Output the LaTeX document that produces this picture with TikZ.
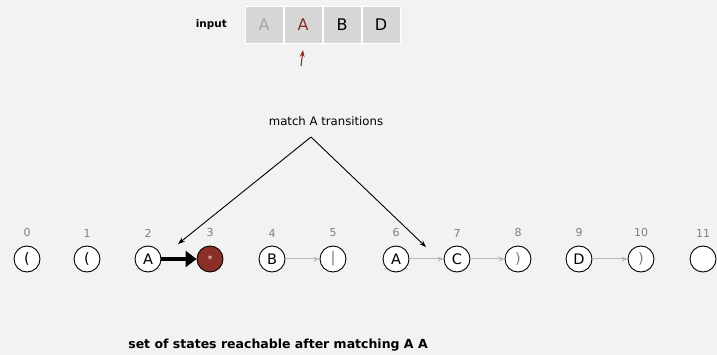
\documentclass[tikz,border=0pt]{standalone}
\usepackage{fontspec}
\setmainfont{DejaVu Sans}
\usetikzlibrary{arrows.meta,positioning}
\definecolor{bggray}{HTML}{F2F2F2}
\definecolor{cellgray}{HTML}{D6D6D6}
\definecolor{matchred}{HTML}{8B3026}
\definecolor{idxgray}{HTML}{7F7F7F}
\definecolor{epsgray}{HTML}{B8B8B8}
\tikzset{
  >=stealth,
  line cap=round,
  line join=round,
  state/.style={draw, circle, fill=white, line width=0.9pt, minimum size=26pt, inner sep=0pt, font=\fontsize{14.5}{14.5}\selectfont},
  cell/.style={draw=white, line width=1pt, fill=cellgray, minimum width=38pt, minimum height=37pt, font=\fontsize{16}{16}\selectfont},
  idx/.style={text=idxgray, font=\fontsize{11}{11}\selectfont, label distance=5pt},
  epsarrow/.style={-{Stealth[length=6pt,width=5pt]}, draw=epsgray, line width=1pt},
  matcharrow/.style={-{Stealth[length=7pt,width=5pt]}, line width=0.9pt},
  bigarrow/.style={-{Triangle[length=11pt,width=16pt]}, line width=4.5pt, line cap=butt}
}

\begin{document}
\begin{tikzpicture}[x=1pt, y=-1pt]
  \fill[bggray] (0,0) rectangle (717,355);
  \useasboundingbox (0,0) rectangle (717,355);

  % input text
  \node[cell, text=black!35] (c1) at (264,25) {A};
  \node[cell, text=matchred, right=0pt of c1] (c2) {A};
  \node[cell, right=0pt of c2] (c3) {B};
  \node[cell, right=0pt of c3] (c4) {D};
  \node[font=\fontsize{10.5}{12}\selectfont\bfseries, left=14pt of c1] (inlabel) {input};
  \coordinate (ptr) at (301,66);
  \draw[matcharrow, draw=matchred, fill=matchred, line width=1.1pt] (ptr) -- ([yshift=-6pt]c2.south);

  % NFA states
  \node[state, label={[idx]above:0}] (s0) at (27,259) {(};
  \node[state, label={[idx]above:1}] (s1) at (87,259) {(};
  \node[state, label={[idx]above:2}] (s2) at (148,259) {A};
  \node[state, fill=matchred, text=white, label={[idx]above:3}] (s3) at (210,259) {\fontsize{9}{9}\selectfont *};
  \node[state, label={[idx]above:4}] (s4) at (272,259) {B};
  \node[state, text=idxgray, label={[idx]above:5}] (s5) at (333,259) {|};
  \node[state, label={[idx]above:6}] (s6) at (396,259) {A};
  \node[state, label={[idx]above:7}] (s7) at (457,259) {C};
  \node[state, text=idxgray, label={[idx]above:8}] (s8) at (518,259) {)};
  \node[state, label={[idx]above:9}] (s9) at (579,259) {D};
  \node[state, text=idxgray, label={[idx]above:10}] (s10) at (641,259) {)};
  \node[state, label={[idx]above:11}] (s11) at (703,259) {};

  \draw[bigarrow] (s2) -- (s3);
  \draw[epsarrow] (s4) -- (s5);
  \draw[epsarrow] (s6) -- (s7);
  \draw[epsarrow] (s7) -- (s8);
  \draw[epsarrow] (s9) -- (s10);

  % match transitions
  \node[font=\fontsize{11.7}{13}\selectfont] (mlabel) at (326,121) {match A transitions};
  \coordinate (apex) at (311,137);
  \coordinate (hitL) at (178,244);
  \coordinate (hitR) at (426,247);
  \draw[matcharrow] (apex) -- (hitL);
  \draw[matcharrow] (apex) -- (hitR);

  \node[font=\fontsize{12.5}{14}\selectfont\bfseries] (caption) at (278,345) {set of states reachable after matching A A};
\end{tikzpicture}
\end{document}
